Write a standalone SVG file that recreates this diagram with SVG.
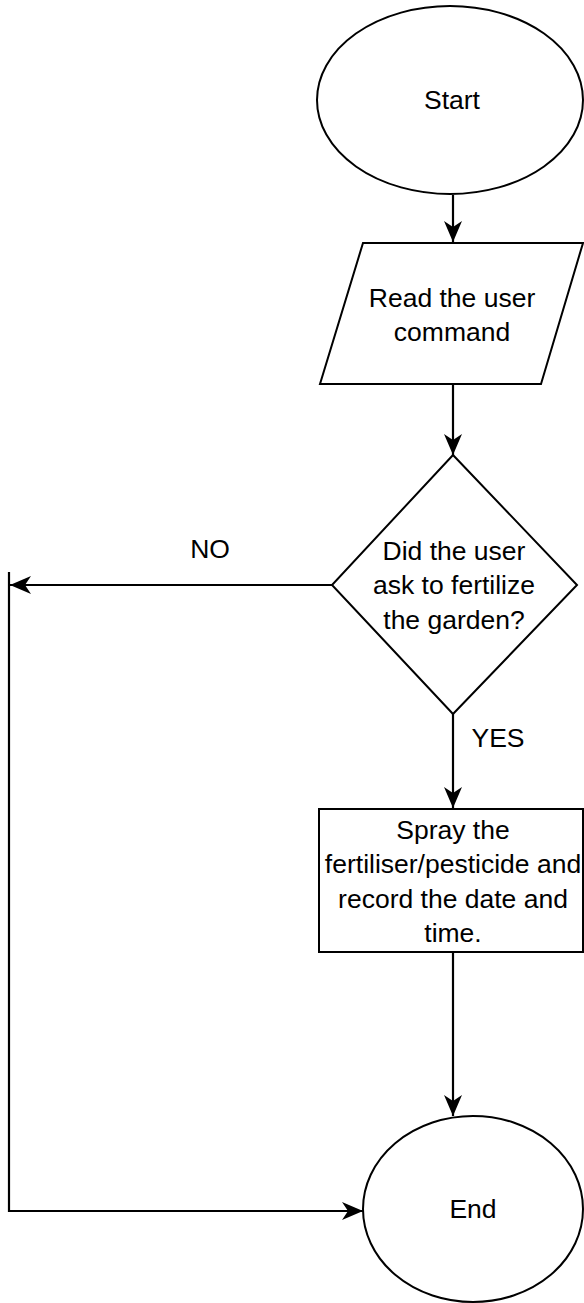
<svg xmlns="http://www.w3.org/2000/svg" width="584" height="1303" viewBox="0 0 584 1303">
<style>
.s{fill:#fff;stroke:#000;stroke-width:2}
.t{font-family:"Liberation Sans",Arial,sans-serif;font-size:26.5px;fill:#000;text-anchor:middle}
.c{fill:none;stroke:#000;stroke-width:2.2}
</style>
<defs>
<marker id="a" markerWidth="22" markerHeight="20" refX="21" refY="10" orient="auto" markerUnits="userSpaceOnUse">
<path d="M0,1 L21,10 L0,19 L6,10 Z" fill="#000"/>
</marker>
</defs>
<rect width="584" height="1303" fill="#fff"/>
<g id="connectors">
<line class="c" x1="453" y1="195" x2="453" y2="242" marker-end="url(#a)"/>
<line class="c" x1="453" y1="384" x2="453" y2="455" marker-end="url(#a)"/>
<line class="c" x1="453" y1="713" x2="453" y2="808" marker-end="url(#a)"/>
<line class="c" x1="453" y1="952" x2="453" y2="1116" marker-end="url(#a)"/>
<line class="c" x1="332" y1="585" x2="10" y2="585" marker-end="url(#a)"/>
<polyline class="c" points="9,572 9,1211 363,1211" marker-end="url(#a)"/>
<text class="t" x="210" y="558">NO</text>
<text class="t" x="498" y="747">YES</text>
</g>
<g id="start">
<ellipse class="s" cx="450" cy="100" rx="133" ry="94"/>
<text class="t" x="452" y="109">Start</text>
</g>
<g id="read">
<polygon class="s" points="363,243 583,243 541,384 320,384"/>
<text class="t" x="452" y="307">Read the user</text>
<text class="t" x="452" y="341">command</text>
</g>
<g id="decision">
<polygon class="s" points="453,455 577,585 453,714 332,585"/>
<text class="t" x="454" y="560">Did the user</text>
<text class="t" x="454" y="594">ask to fertilize</text>
<text class="t" x="454" y="629">the garden?</text>
</g>
<g id="spray">
<rect class="s" x="319" y="809" width="264" height="143"/>
<text class="t" x="453" y="839">Spray the</text>
<text class="t" x="453" y="873">fertiliser/pesticide and</text>
<text class="t" x="453" y="908">record the date and</text>
<text class="t" x="453" y="942">time.</text>
</g>
<g id="end">
<ellipse class="s" cx="473" cy="1209" rx="110" ry="93"/>
<text class="t" x="473" y="1218">End</text>
</g>
</svg>
